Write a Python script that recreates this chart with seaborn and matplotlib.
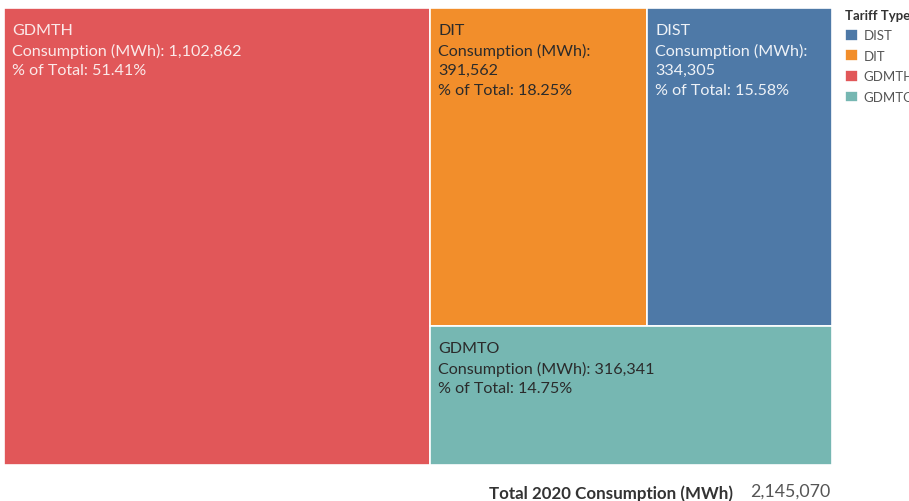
import matplotlib.pyplot as plt
import seaborn as sns

# Data
tariffs = ["GDMTH", "DIT", "DIST", "GDMTO"]
consumption = [1102862, 391562, 334305, 316341]
legend_order = ["DIST", "DIT", "GDMTH", "GDMTO"]
year = 2020

sns.set_theme(style="white")
plt.rcParams["font.family"] = ["Lato", "DejaVu Sans"]

palette = dict(zip(["GDMTH", "DIT", "DIST", "GDMTO"],
                   sns.color_palette(["#E15759", "#F28E2B", "#4E79A7", "#76B7B2"])))
text_colors = {"GDMTH": "#FBE9E9", "DIT": "#2B2B2B", "DIST": "#EEF2F7", "GDMTO": "#2B2B2B"}

total = sum(consumption)
vals = dict(zip(tariffs, consumption))

# Treemap layout (slice and dice) in unit square, y downward
rest = total - vals["GDMTH"]
w0 = vals["GDMTH"] / total
top_h = (vals["DIT"] + vals["DIST"]) / rest
dit_w = (1 - w0) * vals["DIT"] / (vals["DIT"] + vals["DIST"])
rects = {
    "GDMTH": (0, 0, w0, 1),
    "DIT": (w0, 0, dit_w, top_h),
    "DIST": (w0 + dit_w, 0, 1 - w0 - dit_w, top_h),
    "GDMTO": (w0, top_h, 1 - w0, 1 - top_h),
}

fig = plt.figure(figsize=(9.09, 5.02), dpi=100)
ax = fig.add_axes([4 / 909, 36 / 502, 828 / 909, 457 / 502])

for name in tariffs:
    x, y, w, h = rects[name]
    ax.bar(x, h, width=w, bottom=y, align="edge", color=palette[name],
           edgecolor="white", linewidth=1.2, label=name)
    pct = vals[name] / total * 100
    sep = "\n" if w * 828 < 300 else " "
    label = f"{name}\nConsumption (MWh):{sep}{vals[name]:,}\n% of Total: {pct:.2f}%"
    ax.annotate(label, (x, y), xytext=(6, -10.5), textcoords="offset points",
                ha="left", va="top", fontsize=11.6, linespacing=1.5,
                color=text_colors[name])

ax.set_xlim(0, 1)
ax.set_ylim(1, 0)
ax.axis("off")

# Legend
handles, labels = ax.get_legend_handles_labels()
lookup = dict(zip(labels, handles))
leg = fig.legend([lookup[n] for n in legend_order], legend_order,
                 loc="upper left", bbox_to_anchor=(842 / 909, 1 - 7 / 502),
                 frameon=False, title="Tariff Type", fontsize=9.5,
                 title_fontsize=9.5, handlelength=1.0, handleheight=1.0,
                 handletextpad=0.45, labelspacing=0.62, alignment="left",
                 borderaxespad=0, borderpad=0.2)
leg.get_title().set_fontweight("bold")
leg.get_title().set_color("#333333")
for t in leg.get_texts():
    t.set_color("#555555")

# Total
fig.text(733 / 909, 1 - 494 / 502, f"Total {year} Consumption (MWh)", ha="right",
         va="center", fontsize=12.2, fontweight="bold", color="#333333")
fig.text(750 / 909, 1 - 492 / 502, f"{total:,}", ha="left", va="center",
         fontsize=12.8, color="#555555")

fig.savefig("out.png", dpi=100)
